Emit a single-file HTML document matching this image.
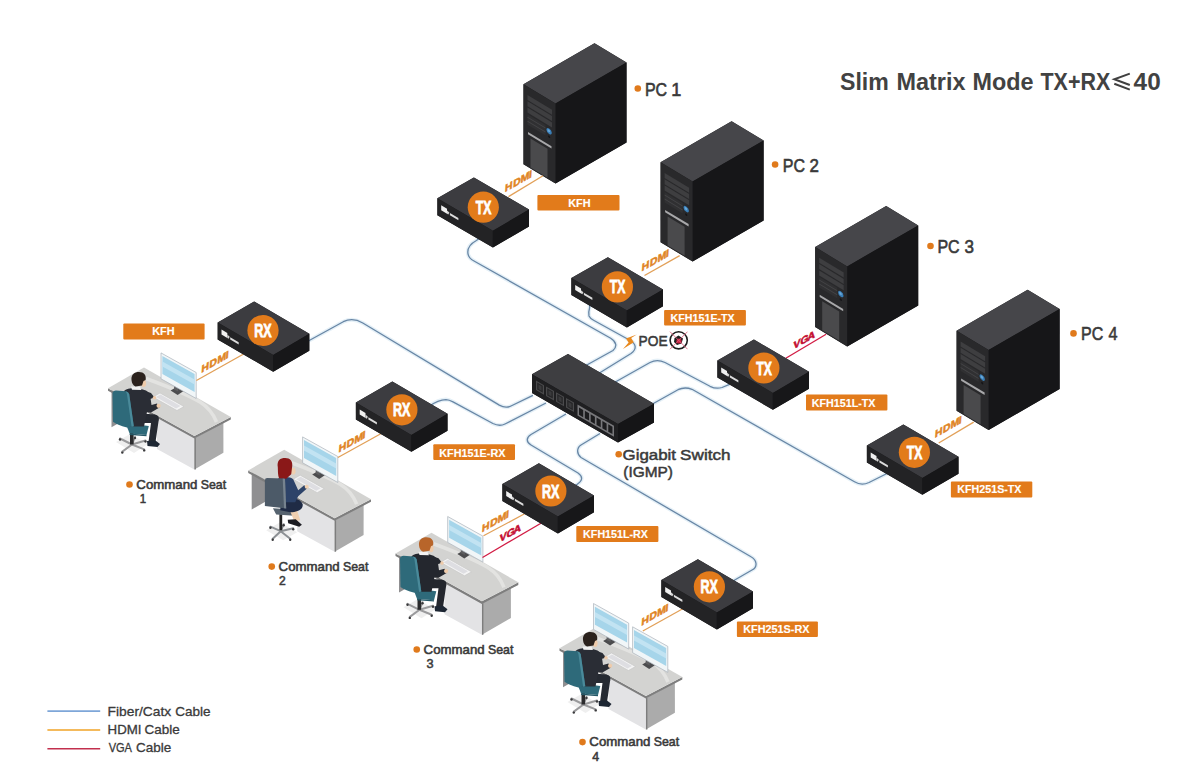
<!DOCTYPE html><html><head><meta charset="utf-8"><style>html,body{margin:0;padding:0;background:#fff;overflow:hidden;width:1200px;height:782px;}svg{display:block;}</style></head><body><svg width="1200" height="782" viewBox="0 0 1200 782">
<rect width="1200" height="782" fill="#ffffff"/>
<path d="M479.5,238.3 L476.4,240.5 C470,244 467.8,247 467.8,252 C467.8,256 469,258.5 474,261 L610.7,338.3 C616.5,342 617.5,346.5 613,350.5 L585,366" fill="none" stroke="#e5f0f7" stroke-width="4" stroke-linejoin="round"/>
<path d="M589.7,304.5 L589.6,307.7 C588.6,311 588.6,314 589,316 C590,318.5 591,319 594,320.5 L629.8,340.3 C636.5,344 637,349 631,353.5 L597,374.5" fill="none" stroke="#e5f0f7" stroke-width="4" stroke-linejoin="round"/>
<path d="M306,342.2 L343.3,321.7 C350,318.5 356,319 362.8,323 L499.3,405.1 C503.5,407.5 507,408 511,406 L532.9,395.3" fill="none" stroke="#e5f0f7" stroke-width="4" stroke-linejoin="round"/>
<path d="M429,406.5 C435,402 440,399.6 446,399.6 C448.5,399.7 450.5,400.5 453,401.8 L492.9,423.5 C497,425.5 501,426 505,424 L546,403" fill="none" stroke="#e5f0f7" stroke-width="4" stroke-linejoin="round"/>
<path d="M566,414 L531,434.5 C526,437.5 526,442 531,445 L578,473 C583,476.5 583,480.5 577,484.5 L574,487" fill="none" stroke="#e5f0f7" stroke-width="4" stroke-linejoin="round"/>
<path d="M600,433.5 L581,445 C576.5,448 576.5,454 581,457.5 L751,556.7 C757,560 758,567 752,570 L733,581" fill="none" stroke="#e5f0f7" stroke-width="4" stroke-linejoin="round"/>
<path d="M610,385 L650,362.5 C655,359.8 660,360 665,362.5 L710,386.3 C714,388.3 718,388.8 722,387.5 L729.5,384.3" fill="none" stroke="#e5f0f7" stroke-width="4" stroke-linejoin="round"/>
<path d="M648,406.5 L678,389.7 C682,387.8 688,387.8 692,389.3 L854.5,481.8 C858.5,484.2 864,484.8 869,482.5 L889,472.5" fill="none" stroke="#e5f0f7" stroke-width="4" stroke-linejoin="round"/>
<path d="M479.5,238.3 L476.4,240.5 C470,244 467.8,247 467.8,252 C467.8,256 469,258.5 474,261 L610.7,338.3 C616.5,342 617.5,346.5 613,350.5 L585,366" fill="none" stroke="#6886a5" stroke-width="1.3" stroke-linejoin="round"/>
<path d="M589.7,304.5 L589.6,307.7 C588.6,311 588.6,314 589,316 C590,318.5 591,319 594,320.5 L629.8,340.3 C636.5,344 637,349 631,353.5 L597,374.5" fill="none" stroke="#6886a5" stroke-width="1.3" stroke-linejoin="round"/>
<path d="M306,342.2 L343.3,321.7 C350,318.5 356,319 362.8,323 L499.3,405.1 C503.5,407.5 507,408 511,406 L532.9,395.3" fill="none" stroke="#6886a5" stroke-width="1.3" stroke-linejoin="round"/>
<path d="M429,406.5 C435,402 440,399.6 446,399.6 C448.5,399.7 450.5,400.5 453,401.8 L492.9,423.5 C497,425.5 501,426 505,424 L546,403" fill="none" stroke="#6886a5" stroke-width="1.3" stroke-linejoin="round"/>
<path d="M566,414 L531,434.5 C526,437.5 526,442 531,445 L578,473 C583,476.5 583,480.5 577,484.5 L574,487" fill="none" stroke="#6886a5" stroke-width="1.3" stroke-linejoin="round"/>
<path d="M600,433.5 L581,445 C576.5,448 576.5,454 581,457.5 L751,556.7 C757,560 758,567 752,570 L733,581" fill="none" stroke="#6886a5" stroke-width="1.3" stroke-linejoin="round"/>
<path d="M610,385 L650,362.5 C655,359.8 660,360 665,362.5 L710,386.3 C714,388.3 718,388.8 722,387.5 L729.5,384.3" fill="none" stroke="#6886a5" stroke-width="1.3" stroke-linejoin="round"/>
<path d="M648,406.5 L678,389.7 C682,387.8 688,387.8 692,389.3 L854.5,481.8 C858.5,484.2 864,484.8 869,482.5 L889,472.5" fill="none" stroke="#6886a5" stroke-width="1.3" stroke-linejoin="round"/>
<polygon points="594.5,43.3 626.5,62.6 626.5,142.6 555.5,183.6 523.5,164.3 523.5,84.3" fill="#19191b"/><polygon points="594.5,43.3 626.5,62.6 555.5,103.6 523.5,84.3" fill="#46464a"/><polygon points="555.5,103.6 626.5,62.6 626.5,142.6 555.5,183.6" fill="#161618"/><polygon points="523.5,84.3 555.5,103.6 555.5,183.6 523.5,164.3" fill="#29292b"/><g transform="matrix(1,0.6031,0,1,523.5,84.3)"><polygon points="4.0,8.3 28.5,8.3 28.5,13.3 4.0,13.3" fill="#3e3e40"/><polygon points="4.0,14.6 28.5,14.6 28.5,19.6 4.0,19.6" fill="#3e3e40"/><polygon points="4.0,20.9 28.5,20.9 28.5,25.9 4.0,25.9" fill="#3e3e40"/><polygon points="4.0,27.5 22.0,27.5 22.0,38.0 4.0,38.0" fill="#303032"/><polygon points="4.0,30.0 22.0,30.0 22.0,31.0 4.0,31.0" fill="#444446"/><polygon points="4.0,34.0 22.0,34.0 22.0,35.0 4.0,35.0" fill="#444446"/><circle cx="25.6" cy="31.5" r="2.7" fill="#3a7fb8"/><circle cx="25.3" cy="31.2" r="1.3" fill="#6aa8d8"/><circle cx="25.6" cy="37" r="1.1" fill="#151517"/><polygon points="4.5,45.0 28.0,45.0 28.0,47.3 4.5,47.3" fill="#a8a8aa"/><polygon points="7.0,50.0 24.0,50.0 24.0,79.0 7.0,79.0" fill="#4a4a4c"/></g>
<polygon points="731.6,121.2 763.6,140.5 763.6,220.5 692.6,261.5 660.6,242.2 660.6,162.2" fill="#19191b"/><polygon points="731.6,121.2 763.6,140.5 692.6,181.5 660.6,162.2" fill="#46464a"/><polygon points="692.6,181.5 763.6,140.5 763.6,220.5 692.6,261.5" fill="#161618"/><polygon points="660.6,162.2 692.6,181.5 692.6,261.5 660.6,242.2" fill="#29292b"/><g transform="matrix(1,0.6031,0,1,660.6,162.2)"><polygon points="4.0,8.3 28.5,8.3 28.5,13.3 4.0,13.3" fill="#3e3e40"/><polygon points="4.0,14.6 28.5,14.6 28.5,19.6 4.0,19.6" fill="#3e3e40"/><polygon points="4.0,20.9 28.5,20.9 28.5,25.9 4.0,25.9" fill="#3e3e40"/><polygon points="4.0,27.5 22.0,27.5 22.0,38.0 4.0,38.0" fill="#303032"/><polygon points="4.0,30.0 22.0,30.0 22.0,31.0 4.0,31.0" fill="#444446"/><polygon points="4.0,34.0 22.0,34.0 22.0,35.0 4.0,35.0" fill="#444446"/><circle cx="25.6" cy="31.5" r="2.7" fill="#3a7fb8"/><circle cx="25.3" cy="31.2" r="1.3" fill="#6aa8d8"/><circle cx="25.6" cy="37" r="1.1" fill="#151517"/><polygon points="4.5,45.0 28.0,45.0 28.0,47.3 4.5,47.3" fill="#a8a8aa"/><polygon points="7.0,50.0 24.0,50.0 24.0,79.0 7.0,79.0" fill="#4a4a4c"/></g>
<polygon points="886.2,206.1 918.2,225.4 918.2,305.4 847.2,346.4 815.2,327.1 815.2,247.1" fill="#19191b"/><polygon points="886.2,206.1 918.2,225.4 847.2,266.4 815.2,247.1" fill="#46464a"/><polygon points="847.2,266.4 918.2,225.4 918.2,305.4 847.2,346.4" fill="#161618"/><polygon points="815.2,247.1 847.2,266.4 847.2,346.4 815.2,327.1" fill="#29292b"/><g transform="matrix(1,0.6031,0,1,815.2,247.1)"><polygon points="4.0,8.3 28.5,8.3 28.5,13.3 4.0,13.3" fill="#3e3e40"/><polygon points="4.0,14.6 28.5,14.6 28.5,19.6 4.0,19.6" fill="#3e3e40"/><polygon points="4.0,20.9 28.5,20.9 28.5,25.9 4.0,25.9" fill="#3e3e40"/><polygon points="4.0,27.5 22.0,27.5 22.0,38.0 4.0,38.0" fill="#303032"/><polygon points="4.0,30.0 22.0,30.0 22.0,31.0 4.0,31.0" fill="#444446"/><polygon points="4.0,34.0 22.0,34.0 22.0,35.0 4.0,35.0" fill="#444446"/><circle cx="25.6" cy="31.5" r="2.7" fill="#3a7fb8"/><circle cx="25.3" cy="31.2" r="1.3" fill="#6aa8d8"/><circle cx="25.6" cy="37" r="1.1" fill="#151517"/><polygon points="4.5,45.0 28.0,45.0 28.0,47.3 4.5,47.3" fill="#a8a8aa"/><polygon points="7.0,50.0 24.0,50.0 24.0,79.0 7.0,79.0" fill="#4a4a4c"/></g>
<polygon points="1027.6,289.7 1059.6,309.0 1059.6,389.0 988.6,430.0 956.6,410.7 956.6,330.7" fill="#19191b"/><polygon points="1027.6,289.7 1059.6,309.0 988.6,350.0 956.6,330.7" fill="#46464a"/><polygon points="988.6,350.0 1059.6,309.0 1059.6,389.0 988.6,430.0" fill="#161618"/><polygon points="956.6,330.7 988.6,350.0 988.6,430.0 956.6,410.7" fill="#29292b"/><g transform="matrix(1,0.6031,0,1,956.6,330.7)"><polygon points="4.0,8.3 28.5,8.3 28.5,13.3 4.0,13.3" fill="#3e3e40"/><polygon points="4.0,14.6 28.5,14.6 28.5,19.6 4.0,19.6" fill="#3e3e40"/><polygon points="4.0,20.9 28.5,20.9 28.5,25.9 4.0,25.9" fill="#3e3e40"/><polygon points="4.0,27.5 22.0,27.5 22.0,38.0 4.0,38.0" fill="#303032"/><polygon points="4.0,30.0 22.0,30.0 22.0,31.0 4.0,31.0" fill="#444446"/><polygon points="4.0,34.0 22.0,34.0 22.0,35.0 4.0,35.0" fill="#444446"/><circle cx="25.6" cy="31.5" r="2.7" fill="#3a7fb8"/><circle cx="25.3" cy="31.2" r="1.3" fill="#6aa8d8"/><circle cx="25.6" cy="37" r="1.1" fill="#151517"/><polygon points="4.5,45.0 28.0,45.0 28.0,47.3 4.5,47.3" fill="#a8a8aa"/><polygon points="7.0,50.0 24.0,50.0 24.0,79.0 7.0,79.0" fill="#4a4a4c"/></g>
<line x1="508.5" y1="196.6" x2="543" y2="175.8" stroke="#e2a058" stroke-width="1.3"/>
<text x="-0.68 7.52 15.22 23.42" y="0" font-family='"Liberation Sans", sans-serif' font-weight="bold" font-size="10.47" fill="#e08424" stroke="#e08424" stroke-width="0.55" transform="matrix(1.0,-0.5650,-0.07,1,505.4,191.9)">HDMI</text>
<line x1="644.5" y1="275.5" x2="679.7" y2="255.6" stroke="#e2a058" stroke-width="1.3"/>
<text x="-0.68 7.58 15.34 23.61" y="0" font-family='"Liberation Sans", sans-serif' font-weight="bold" font-size="10.47" fill="#e08424" stroke="#e08424" stroke-width="0.55" transform="matrix(1.0,-0.5650,-0.07,1,642.1,271.2)">HDMI</text>
<line x1="785.8" y1="358.3" x2="826.1" y2="334.2" stroke="#d21c44" stroke-width="1.3"/>
<text x="-0.05 6.98 13.84" y="0" font-family='"Liberation Sans", sans-serif' font-weight="bold" font-size="10.47" fill="#c40c30" stroke="#c40c30" stroke-width="0.55" transform="matrix(1.0,-0.5650,-0.07,1,793.4,349.4)">VGA</text>
<line x1="938.7" y1="443" x2="973.7" y2="422.1" stroke="#e2a058" stroke-width="1.3"/>
<text x="-0.68 7.46 15.10 23.23" y="0" font-family='"Liberation Sans", sans-serif' font-weight="bold" font-size="10.47" fill="#e08424" stroke="#e08424" stroke-width="0.55" transform="matrix(1.0,-0.5650,-0.07,1,935.3,437.6)">HDMI</text>
<g transform="translate(0.0,0.0)"><polygon points="111.5,389.0 125.0,381.2 125.0,419.5 111.5,427.3" fill="#8f8f91"/><polygon points="157.0,417.0 194.4,438.0 194.4,469.5 157.0,449.0" fill="#e3e3e5"/><polygon points="194.4,438.0 223.4,422.5 223.4,452.7 194.4,469.5" fill="#ababab"/><line x1="195.2" y1="438" x2="195.2" y2="469.5" stroke="#7d7d7d" stroke-width="1.4"/><polygon points="108.0,388.2 194.4,436.0 230.8,417.0 230.8,419.6 194.4,438.6 108.0,390.8" fill="#7e7e7e"/><polygon points="108.0,388.2 144.0,367.5 230.8,417.0 194.4,436.0" fill="#d3d3d1"/><path d="M146,378.5 C165,385.5 185,393 200,402 C208,407 213,413 216.5,422" fill="none" stroke="#e3e3e1" stroke-width="3.6"/><polygon points="170.6,390.5 176.6,387.0 183.6,391.0 177.6,395.0" fill="#4c4c4e"/><polygon points="174.1,384.5 178.1,386.5 178.1,391.5 174.1,389.5" fill="#5e5e60"/><polygon points="161.0,352.9 196.2,372.5 196.2,398.5 161.0,378.8" fill="#f1f6f8" stroke="#aab2ba" stroke-width="0.7"/><polygon points="162.4,356.1 194.6,374.1 194.6,392.0 162.4,374.1" fill="#a6d5ea"/><polygon points="162.4,361.5 194.6,379.5 194.6,384.5 162.4,366.5" fill="#c2e3f2"/><polygon points="153.0,397.0 160.0,393.0 184.0,406.5 177.0,410.5" fill="#f4f4f4" stroke="#c4c4c4" stroke-width="0.6"/><polygon points="156.0,397.0 160.5,394.5 180.5,406.0 176.0,408.5" fill="#dedee2"/><polygon points="116,442 130,434 148,444 134,453" fill="#efefef"/><g stroke="#9a9a9c" stroke-width="2" stroke-linecap="round"><line x1="132" y1="444.5" x2="120" y2="438.5"/><line x1="132" y1="444.5" x2="122.3" y2="451.6"/><line x1="132" y1="444.5" x2="144.2" y2="449.4"/><line x1="132" y1="444.5" x2="145.5" y2="440.5"/><line x1="132" y1="444.5" x2="135" y2="437"/></g><circle cx="120" cy="439.5" r="1.2" fill="#3a3a3c"/><circle cx="122.3" cy="452.6" r="1.2" fill="#3a3a3c"/><circle cx="144.2" cy="450.4" r="1.2" fill="#3a3a3c"/><circle cx="145.5" cy="441.5" r="1.2" fill="#3a3a3c"/><circle cx="135" cy="438" r="1.2" fill="#3a3a3c"/><rect x="130" y="433" width="3.6" height="11.5" fill="#2a2a2c"/><polygon points="125.5,423.0 148.8,426.0 146.5,435.0 129.6,433.6" fill="#2e6a7a"/><polygon points="129.6,433.6 146.5,435.0 146.5,436.3 129.6,434.9" fill="#245766"/><path d="M136,413 L155,414.5 C159,415.5 159.5,418.5 158.5,421.5 L155.5,442 L148.5,442 L151,423 L138,423 Z" fill="#262a32"/><path d="M147,441 L155.5,440.5 L160,444 L157.5,447 L147.5,446 Z" fill="#1d2633"/><path d="M145,391 L151,393 L154.5,397.5 L150,399 Z" fill="#2a2d35"/><circle cx="154.5" cy="397.8" r="1.8" fill="#eecbab"/><path d="M124,391 C126,388.5 132,387.5 138,388 L146,390.5 C149,392 150.5,395 150.5,398 L151.5,405 L157,403.5 L159.5,407.5 L151,412.5 L147,412 L144,426.5 L130,426.5 L126,408 Z" fill="#2a2d35"/><circle cx="158.6" cy="405.8" r="2.1" fill="#eecbab"/><polygon points="131.0,386.5 140.0,386.8 141.5,390.0 132.0,389.8" fill="#f2f2f2"/><ellipse cx="143.6" cy="383.3" rx="2.5" ry="3.6" fill="#eecbab"/><path d="M131.5,380 C131,374.5 134.5,372 139,372 C144,372 146.5,375 145.6,380 L143.5,381 L142,385.5 L135.5,386.5 C133,385.5 131.8,383 131.5,380 Z" fill="#2b221d"/><path d="M112.5,393 Q113,390.5 116,390.5 L126,391.3 Q128.5,391.8 129.2,394.3 L133.8,426.3 L127,427.5 Q117,425 113,421.7 Z" fill="#2e6a7a"/><path d="M126.3,391.4 Q128.5,391.8 129.2,394.3 L133.8,426.3 L131.6,426.8 L127,394.5 Q126.8,392.5 125.5,391.6 Z" fill="#4a8a9a"/></g>
<g transform="translate(140.2,82.2)"><polygon points="111.5,389.0 125.0,381.2 125.0,419.5 111.5,427.3" fill="#8f8f91"/><polygon points="157.0,417.0 194.4,438.0 194.4,469.5 157.0,449.0" fill="#e3e3e5"/><polygon points="194.4,438.0 223.4,422.5 223.4,452.7 194.4,469.5" fill="#ababab"/><line x1="195.2" y1="438" x2="195.2" y2="469.5" stroke="#7d7d7d" stroke-width="1.4"/><polygon points="108.0,388.2 194.4,436.0 230.8,417.0 230.8,419.6 194.4,438.6 108.0,390.8" fill="#7e7e7e"/><polygon points="108.0,388.2 144.0,367.5 230.8,417.0 194.4,436.0" fill="#d3d3d1"/><path d="M146,378.5 C165,385.5 185,393 200,402 C208,407 213,413 216.5,422" fill="none" stroke="#e3e3e1" stroke-width="3.6"/><polygon points="172.0,392.3 178.0,388.8 185.0,392.8 179.0,396.8" fill="#4c4c4e"/><polygon points="175.5,386.3 179.5,388.3 179.5,393.3 175.5,391.3" fill="#5e5e60"/><polygon points="162.4,354.7 197.6,374.3 197.6,400.3 162.4,380.6" fill="#f1f6f8" stroke="#aab2ba" stroke-width="0.7"/><polygon points="163.8,357.9 196.0,375.9 196.0,393.8 163.8,375.9" fill="#a6d5ea"/><polygon points="163.8,363.3 196.0,381.3 196.0,386.3 163.8,368.3" fill="#c2e3f2"/><polygon points="153.0,397.0 160.0,393.0 184.0,406.5 177.0,410.5" fill="#f4f4f4" stroke="#c4c4c4" stroke-width="0.6"/><polygon points="156.0,397.0 160.5,394.5 180.5,406.0 176.0,408.5" fill="#dedee2"/><polygon points="126,448 140,440 157,450 143,458" fill="#efefef"/><g stroke="#8c9094" stroke-width="2" stroke-linecap="round"><line x1="140.5" y1="449" x2="130.2" y2="444.5"/><line x1="140.5" y1="449" x2="132.5" y2="456.5"/><line x1="140.5" y1="449" x2="150" y2="456.5"/><line x1="140.5" y1="449" x2="153" y2="446"/><line x1="140.5" y1="449" x2="143.5" y2="442"/></g><circle cx="130.2" cy="445.5" r="1.2" fill="#3a3a3c"/><circle cx="132.5" cy="457.5" r="1.2" fill="#3a3a3c"/><circle cx="150" cy="457.5" r="1.2" fill="#3a3a3c"/><circle cx="153" cy="447" r="1.2" fill="#3a3a3c"/><circle cx="143.5" cy="443" r="1.2" fill="#3a3a3c"/><rect x="139.2" y="432" width="2.8" height="16" fill="#222"/><polygon points="132.7,426.0 155.7,427.5 154.0,433.5 136.0,432.3" fill="#56636f"/><polygon points="150.0,429.0 157.0,428.5 160.0,438.0 154.0,439.0" fill="#efcfb0"/><path d="M147.5,437.5 L155.5,437 L161.7,442.5 L159,444.5 L148,441 Z" fill="#1c1c22"/><path d="M141,417 C150,414 160,416 162.5,422 C163,427 158,430 150,430 L140,428 Z" fill="#1f2b45"/><path d="M137,397 C141,394 150,394 153,397 L158,408 L164,403 L167,406 L158,414 L155,420 L140,420 Z" fill="#2d4369"/><circle cx="166.5" cy="404.5" r="2" fill="#efcfb0"/><ellipse cx="153" cy="389" rx="2.4" ry="3.4" fill="#efcfb0"/><path d="M137.6,385 C136.5,378 140,375.7 145,375.7 C150,375.7 152.8,379 152,384 L151,392 L146,396.5 L139,396.5 C137.5,393 137.8,389 137.6,385 Z" fill="#8a1818"/><path d="M124.7,398 Q124.7,395.9 127,395.9 L143,396.4 Q144.8,396.5 144.9,398.5 L146,426.2 L124.7,423.8 Z" fill="#4c5a68"/><polygon points="142.5,396.4 144.8,396.5 146,426.2 143.8,426" fill="#76838f"/></g>
<g transform="translate(287.5,165.3)"><polygon points="111.5,389.0 125.0,381.2 125.0,419.5 111.5,427.3" fill="#8f8f91"/><polygon points="157.0,417.0 194.4,438.0 194.4,469.5 157.0,449.0" fill="#e3e3e5"/><polygon points="194.4,438.0 223.4,422.5 223.4,452.7 194.4,469.5" fill="#ababab"/><line x1="195.2" y1="438" x2="195.2" y2="469.5" stroke="#7d7d7d" stroke-width="1.4"/><polygon points="108.0,388.2 194.4,436.0 230.8,417.0 230.8,419.6 194.4,438.6 108.0,390.8" fill="#7e7e7e"/><polygon points="108.0,388.2 144.0,367.5 230.8,417.0 194.4,436.0" fill="#d3d3d1"/><path d="M146,378.5 C165,385.5 185,393 200,402 C208,407 213,413 216.5,422" fill="none" stroke="#e3e3e1" stroke-width="3.6"/><polygon points="169.8,388.8 175.8,385.3 182.8,389.3 176.8,393.3" fill="#4c4c4e"/><polygon points="173.3,382.8 177.3,384.8 177.3,389.8 173.3,387.8" fill="#5e5e60"/><polygon points="160.2,351.2 195.4,370.8 195.4,396.8 160.2,377.1" fill="#f1f6f8" stroke="#aab2ba" stroke-width="0.7"/><polygon points="161.6,354.4 193.8,372.4 193.8,390.3 161.6,372.4" fill="#a6d5ea"/><polygon points="161.6,359.8 193.8,377.8 193.8,382.8 161.6,364.8" fill="#c2e3f2"/><polygon points="153.0,397.0 160.0,393.0 184.0,406.5 177.0,410.5" fill="#f4f4f4" stroke="#c4c4c4" stroke-width="0.6"/><polygon points="156.0,397.0 160.5,394.5 180.5,406.0 176.0,408.5" fill="#dedee2"/><polygon points="116,442 130,434 148,444 134,453" fill="#efefef"/><g stroke="#9a9a9c" stroke-width="2" stroke-linecap="round"><line x1="132" y1="444.5" x2="120" y2="438.5"/><line x1="132" y1="444.5" x2="122.3" y2="451.6"/><line x1="132" y1="444.5" x2="144.2" y2="449.4"/><line x1="132" y1="444.5" x2="145.5" y2="440.5"/><line x1="132" y1="444.5" x2="135" y2="437"/></g><circle cx="120" cy="439.5" r="1.2" fill="#3a3a3c"/><circle cx="122.3" cy="452.6" r="1.2" fill="#3a3a3c"/><circle cx="144.2" cy="450.4" r="1.2" fill="#3a3a3c"/><circle cx="145.5" cy="441.5" r="1.2" fill="#3a3a3c"/><circle cx="135" cy="438" r="1.2" fill="#3a3a3c"/><rect x="130" y="433" width="3.6" height="11.5" fill="#2a2a2c"/><polygon points="125.5,423.0 148.8,426.0 146.5,435.0 129.6,433.6" fill="#2e6a7a"/><polygon points="129.6,433.6 146.5,435.0 146.5,436.3 129.6,434.9" fill="#245766"/><path d="M136,413 L155,414.5 C159,415.5 159.5,418.5 158.5,421.5 L155.5,442 L148.5,442 L151,423 L138,423 Z" fill="#24272e"/><path d="M147,441 L155.5,440.5 L160,444 L157.5,447 L147.5,446 Z" fill="#1d2633"/><path d="M145,391 L151,393 L154.5,397.5 L150,399 Z" fill="#24272e"/><circle cx="154.5" cy="397.8" r="1.8" fill="#eecbab"/><path d="M124,391 C126,388.5 132,387.5 138,388 L146,390.5 C149,392 150.5,395 150.5,398 L151.5,405 L157,403.5 L159.5,407.5 L151,412.5 L147,412 L144,426.5 L130,426.5 L126,408 Z" fill="#24272e"/><circle cx="158.6" cy="405.8" r="2.1" fill="#eecbab"/><polygon points="131.0,386.5 140.0,386.8 141.5,390.0 132.0,389.8" fill="#f2f2f2"/><ellipse cx="143.6" cy="383.3" rx="2.5" ry="3.6" fill="#eecbab"/><path d="M131.5,380 C131,374.5 134.5,372 139,372 C144,372 146.5,375 145.6,380 L143.5,381 L142,385.5 L135.5,386.5 C133,385.5 131.8,383 131.5,380 Z" fill="#b8652a"/><path d="M112.5,393 Q113,390.5 116,390.5 L126,391.3 Q128.5,391.8 129.2,394.3 L133.8,426.3 L127,427.5 Q117,425 113,421.7 Z" fill="#2e6a7a"/><path d="M126.3,391.4 Q128.5,391.8 129.2,394.3 L133.8,426.3 L131.6,426.8 L127,394.5 Q126.8,392.5 125.5,391.6 Z" fill="#4a8a9a"/></g>
<g transform="translate(451.5,260.0)"><polygon points="111.5,389.0 125.0,381.2 125.0,419.5 111.5,427.3" fill="#8f8f91"/><polygon points="157.0,417.0 194.4,438.0 194.4,469.5 157.0,449.0" fill="#e3e3e5"/><polygon points="194.4,438.0 223.4,422.5 223.4,452.7 194.4,469.5" fill="#ababab"/><line x1="195.2" y1="438" x2="195.2" y2="469.5" stroke="#7d7d7d" stroke-width="1.4"/><polygon points="108.0,388.2 194.4,436.0 230.8,417.0 230.8,419.6 194.4,438.6 108.0,390.8" fill="#7e7e7e"/><polygon points="108.0,388.2 144.0,367.5 230.8,417.0 194.4,436.0" fill="#d3d3d1"/><path d="M146,378.5 C165,385.5 185,393 200,402 C208,407 213,413 216.5,422" fill="none" stroke="#e3e3e1" stroke-width="3.6"/><polygon points="151.6,381.1 157.6,377.6 164.6,381.6 158.6,385.6" fill="#4c4c4e"/><polygon points="155.1,375.1 159.1,377.1 159.1,382.1 155.1,380.1" fill="#5e5e60"/><polygon points="142.0,343.5 177.2,363.1 177.2,389.1 142.0,369.4" fill="#f1f6f8" stroke="#aab2ba" stroke-width="0.7"/><polygon points="143.4,346.7 175.6,364.7 175.6,382.6 143.4,364.7" fill="#a6d5ea"/><polygon points="143.4,352.1 175.6,370.1 175.6,375.1 143.4,357.1" fill="#c2e3f2"/><polygon points="190.7,404.4 196.7,400.9 203.7,404.9 197.7,408.9" fill="#4c4c4e"/><polygon points="194.2,398.4 198.2,400.4 198.2,405.4 194.2,403.4" fill="#5e5e60"/><polygon points="181.1,366.8 216.3,386.4 216.3,412.4 181.1,392.7" fill="#f1f6f8" stroke="#aab2ba" stroke-width="0.7"/><polygon points="182.5,370.0 214.7,388.0 214.7,405.9 182.5,388.0" fill="#a6d5ea"/><polygon points="182.5,375.4 214.7,393.4 214.7,398.4 182.5,380.4" fill="#c2e3f2"/><polygon points="153.0,397.0 160.0,393.0 184.0,406.5 177.0,410.5" fill="#f4f4f4" stroke="#c4c4c4" stroke-width="0.6"/><polygon points="156.0,397.0 160.5,394.5 180.5,406.0 176.0,408.5" fill="#dedee2"/><polygon points="116,442 130,434 148,444 134,453" fill="#efefef"/><g stroke="#9a9a9c" stroke-width="2" stroke-linecap="round"><line x1="132" y1="444.5" x2="120" y2="438.5"/><line x1="132" y1="444.5" x2="122.3" y2="451.6"/><line x1="132" y1="444.5" x2="144.2" y2="449.4"/><line x1="132" y1="444.5" x2="145.5" y2="440.5"/><line x1="132" y1="444.5" x2="135" y2="437"/></g><circle cx="120" cy="439.5" r="1.2" fill="#3a3a3c"/><circle cx="122.3" cy="452.6" r="1.2" fill="#3a3a3c"/><circle cx="144.2" cy="450.4" r="1.2" fill="#3a3a3c"/><circle cx="145.5" cy="441.5" r="1.2" fill="#3a3a3c"/><circle cx="135" cy="438" r="1.2" fill="#3a3a3c"/><rect x="130" y="433" width="3.6" height="11.5" fill="#2a2a2c"/><polygon points="125.5,423.0 148.8,426.0 146.5,435.0 129.6,433.6" fill="#2e6a7a"/><polygon points="129.6,433.6 146.5,435.0 146.5,436.3 129.6,434.9" fill="#245766"/><path d="M136,413 L155,414.5 C159,415.5 159.5,418.5 158.5,421.5 L155.5,442 L148.5,442 L151,423 L138,423 Z" fill="#262a32"/><path d="M147,441 L155.5,440.5 L160,444 L157.5,447 L147.5,446 Z" fill="#1d2633"/><path d="M145,391 L151,393 L154.5,397.5 L150,399 Z" fill="#2a2d35"/><circle cx="154.5" cy="397.8" r="1.8" fill="#eecbab"/><path d="M124,391 C126,388.5 132,387.5 138,388 L146,390.5 C149,392 150.5,395 150.5,398 L151.5,405 L157,403.5 L159.5,407.5 L151,412.5 L147,412 L144,426.5 L130,426.5 L126,408 Z" fill="#2a2d35"/><circle cx="158.6" cy="405.8" r="2.1" fill="#eecbab"/><polygon points="131.0,386.5 140.0,386.8 141.5,390.0 132.0,389.8" fill="#f2f2f2"/><ellipse cx="143.6" cy="383.3" rx="2.5" ry="3.6" fill="#eecbab"/><path d="M131.5,380 C131,374.5 134.5,372 139,372 C144,372 146.5,375 145.6,380 L143.5,381 L142,385.5 L135.5,386.5 C133,385.5 131.8,383 131.5,380 Z" fill="#2b221d"/><path d="M112.5,393 Q113,390.5 116,390.5 L126,391.3 Q128.5,391.8 129.2,394.3 L133.8,426.3 L127,427.5 Q117,425 113,421.7 Z" fill="#2e6a7a"/><path d="M126.3,391.4 Q128.5,391.8 129.2,394.3 L133.8,426.3 L131.6,426.8 L127,394.5 Q126.8,392.5 125.5,391.6 Z" fill="#4a8a9a"/></g>
<line x1="196.4" y1="380.5" x2="243.2" y2="354.2" stroke="#e2a058" stroke-width="1.3"/>
<text x="-0.68 7.58 15.34 23.61" y="0" font-family='"Liberation Sans", sans-serif' font-weight="bold" font-size="10.47" fill="#e08424" stroke="#e08424" stroke-width="0.55" transform="matrix(1.0,-0.5650,-0.07,1,201.8,372.7)">HDMI</text>
<line x1="337.9" y1="457.5" x2="380.8" y2="433.7" stroke="#e2a058" stroke-width="1.3"/>
<text x="-0.68 7.43 15.04 23.14" y="0" font-family='"Liberation Sans", sans-serif' font-weight="bold" font-size="10.47" fill="#e08424" stroke="#e08424" stroke-width="0.55" transform="matrix(1.0,-0.5650,-0.07,1,339.1,452.4)">HDMI</text>
<line x1="483.5" y1="535.8" x2="524.6" y2="513.8" stroke="#e2a058" stroke-width="1.3"/>
<text x="-0.68 7.49 15.16 23.33" y="0" font-family='"Liberation Sans", sans-serif' font-weight="bold" font-size="10.47" fill="#e08424" stroke="#e08424" stroke-width="0.55" transform="matrix(1.0,-0.5650,-0.07,1,482.4,532)">HDMI</text>
<line x1="482.5" y1="557.5" x2="541.8" y2="522.7" stroke="#d21c44" stroke-width="1.3"/>
<text x="-0.05 6.95 13.77" y="0" font-family='"Liberation Sans", sans-serif' font-weight="bold" font-size="10.47" fill="#c40c30" stroke="#c40c30" stroke-width="0.55" transform="matrix(1.0,-0.5650,-0.07,1,499.5,542.5)">VGA</text>
<line x1="642.8" y1="631" x2="682.8" y2="608.8" stroke="#e2a058" stroke-width="1.3"/>
<text x="-0.68 7.52 15.22 23.42" y="0" font-family='"Liberation Sans", sans-serif' font-weight="bold" font-size="10.47" fill="#e08424" stroke="#e08424" stroke-width="0.55" transform="matrix(1.0,-0.5650,-0.07,1,641.8,625.6)">HDMI</text>
<polygon points="568.0,354.1 654.0,403.8 654.0,422.4 618.0,442.6 532.0,392.9 532.0,374.3" fill="#18181a"/><polygon points="568.0,354.1 654.0,403.8 618.0,424.0 532.0,374.3" fill="#3e3e41"/><polygon points="532.0,374.3 618.0,424.0 618.0,442.6 532.0,392.9" fill="#1f1f21"/><polygon points="618.0,424.0 654.0,403.8 654.0,422.4 618.0,442.6" fill="#151517"/><g transform="matrix(1,0.5779,0,1,532.0,374.3)"><rect x="4" y="4" width="8" height="9.5" fill="#4a4a4c"/><rect x="5.2" y="5.2" width="5.6" height="7.1" fill="#262628"/><rect x="6.5" y="6.5" width="3" height="4.5" fill="#3a3a3c"/><rect x="14" y="4" width="8" height="9.5" fill="#4a4a4c"/><rect x="15.2" y="5.2" width="5.6" height="7.1" fill="#262628"/><rect x="16.5" y="6.5" width="3" height="4.5" fill="#3a3a3c"/><rect x="24" y="4" width="8" height="9.5" fill="#4a4a4c"/><rect x="25.2" y="5.2" width="5.6" height="7.1" fill="#262628"/><rect x="26.5" y="6.5" width="3" height="4.5" fill="#3a3a3c"/><rect x="34" y="4" width="8" height="9.5" fill="#4a4a4c"/><rect x="35.2" y="5.2" width="5.6" height="7.1" fill="#262628"/><rect x="36.5" y="6.5" width="3" height="4.5" fill="#3a3a3c"/><rect x="45.5" y="4" width="36.5" height="11" fill="#77777a"/><rect x="47.00" y="6" width="4.2" height="7.3" fill="#1c1c1e"/><rect x="52.85" y="6" width="4.2" height="7.3" fill="#1c1c1e"/><rect x="58.70" y="6" width="4.2" height="7.3" fill="#1c1c1e"/><rect x="64.55" y="6" width="4.2" height="7.3" fill="#1c1c1e"/><rect x="70.40" y="6" width="4.2" height="7.3" fill="#1c1c1e"/><rect x="76.25" y="6" width="4.2" height="7.3" fill="#1c1c1e"/></g>
<polygon points="473.9,177.4 529.0,209.6 529.0,226.5 492.9,247.6 437.4,215.2 437.4,198.3" fill="#1a1a1c"/><polygon points="473.9,177.4 529.0,209.6 492.9,230.7 437.4,198.3" fill="#3c3c40"/><polygon points="437.4,198.3 492.9,230.7 492.9,247.6 437.4,215.2" fill="#232325"/><polygon points="492.9,230.7 529.0,209.6 529.0,226.5 492.9,247.6" fill="#171719"/><g transform="matrix(1,0.5838,0,1,437.4,198.3)"><rect x="3.8" y="4.8" width="5.8" height="5" fill="#f0f0f0"/><polygon points="9.6,6.5 12,7.2 11,9.8 9.6,9.8" fill="#d8d8d8"/><rect x="12.5" y="7.4" width="8.5" height="2.3" fill="#dcdcdc"/></g><circle cx="483.3" cy="207.2" r="15.6" fill="#e27b1b"/><text x="475.73" y="213.70" font-family='"Liberation Sans", sans-serif' font-weight="bold" font-size="18.60" fill="#fff" stroke="#fff" stroke-width="0.85" textLength="15.58" lengthAdjust="spacingAndGlyphs">TX</text>
<polygon points="607.9,257.2 663.0,289.4 663.0,306.3 626.9,327.4 571.4,295.0 571.4,278.1" fill="#1a1a1c"/><polygon points="607.9,257.2 663.0,289.4 626.9,310.5 571.4,278.1" fill="#3c3c40"/><polygon points="571.4,278.1 626.9,310.5 626.9,327.4 571.4,295.0" fill="#232325"/><polygon points="626.9,310.5 663.0,289.4 663.0,306.3 626.9,327.4" fill="#171719"/><g transform="matrix(1,0.5838,0,1,571.4,278.1)"><rect x="3.8" y="4.8" width="5.8" height="5" fill="#f0f0f0"/><polygon points="9.6,6.5 12,7.2 11,9.8 9.6,9.8" fill="#d8d8d8"/><rect x="12.5" y="7.4" width="8.5" height="2.3" fill="#dcdcdc"/></g><circle cx="617.4" cy="286.9" r="15.6" fill="#e27b1b"/><text x="609.83" y="293.40" font-family='"Liberation Sans", sans-serif' font-weight="bold" font-size="18.60" fill="#fff" stroke="#fff" stroke-width="0.85" textLength="15.58" lengthAdjust="spacingAndGlyphs">TX</text>
<polygon points="753.9,339.6 809.0,371.8 809.0,388.7 772.9,409.8 717.4,377.4 717.4,360.5" fill="#1a1a1c"/><polygon points="753.9,339.6 809.0,371.8 772.9,392.9 717.4,360.5" fill="#3c3c40"/><polygon points="717.4,360.5 772.9,392.9 772.9,409.8 717.4,377.4" fill="#232325"/><polygon points="772.9,392.9 809.0,371.8 809.0,388.7 772.9,409.8" fill="#171719"/><g transform="matrix(1,0.5838,0,1,717.4,360.5)"><rect x="3.8" y="4.8" width="5.8" height="5" fill="#f0f0f0"/><polygon points="9.6,6.5 12,7.2 11,9.8 9.6,9.8" fill="#d8d8d8"/><rect x="12.5" y="7.4" width="8.5" height="2.3" fill="#dcdcdc"/></g><circle cx="763.9" cy="368.0" r="15.6" fill="#e27b1b"/><text x="756.33" y="374.50" font-family='"Liberation Sans", sans-serif' font-weight="bold" font-size="18.60" fill="#fff" stroke="#fff" stroke-width="0.85" textLength="15.58" lengthAdjust="spacingAndGlyphs">TX</text>
<polygon points="903.4,424.6 958.5,456.8 958.5,473.7 922.4,494.8 866.9,462.4 866.9,445.5" fill="#1a1a1c"/><polygon points="903.4,424.6 958.5,456.8 922.4,477.9 866.9,445.5" fill="#3c3c40"/><polygon points="866.9,445.5 922.4,477.9 922.4,494.8 866.9,462.4" fill="#232325"/><polygon points="922.4,477.9 958.5,456.8 958.5,473.7 922.4,494.8" fill="#171719"/><g transform="matrix(1,0.5838,0,1,866.9,445.5)"><rect x="3.8" y="4.8" width="5.8" height="5" fill="#f0f0f0"/><polygon points="9.6,6.5 12,7.2 11,9.8 9.6,9.8" fill="#d8d8d8"/><rect x="12.5" y="7.4" width="8.5" height="2.3" fill="#dcdcdc"/></g><circle cx="914.4" cy="452.3" r="15.6" fill="#e27b1b"/><text x="906.83" y="458.80" font-family='"Liberation Sans", sans-serif' font-weight="bold" font-size="18.60" fill="#fff" stroke="#fff" stroke-width="0.85" textLength="15.58" lengthAdjust="spacingAndGlyphs">TX</text>
<polygon points="254.2,301.6 309.3,333.8 309.3,350.7 273.2,371.8 217.7,339.4 217.7,322.5" fill="#1a1a1c"/><polygon points="254.2,301.6 309.3,333.8 273.2,354.9 217.7,322.5" fill="#3c3c40"/><polygon points="217.7,322.5 273.2,354.9 273.2,371.8 217.7,339.4" fill="#232325"/><polygon points="273.2,354.9 309.3,333.8 309.3,350.7 273.2,371.8" fill="#171719"/><g transform="matrix(1,0.5838,0,1,217.7,322.5)"><rect x="3.8" y="4.8" width="5.8" height="5" fill="#f0f0f0"/><polygon points="9.6,6.5 12,7.2 11,9.8 9.6,9.8" fill="#d8d8d8"/><rect x="12.5" y="7.4" width="8.5" height="2.3" fill="#dcdcdc"/></g><circle cx="263.0" cy="330.5" r="15.6" fill="#e27b1b"/><text x="254.19" y="337.00" font-family='"Liberation Sans", sans-serif' font-weight="bold" font-size="18.60" fill="#fff" stroke="#fff" stroke-width="0.85" textLength="17.39" lengthAdjust="spacingAndGlyphs">RX</text>
<polygon points="392.4,381.6 447.5,413.8 447.5,430.7 411.4,451.8 355.9,419.4 355.9,402.5" fill="#1a1a1c"/><polygon points="392.4,381.6 447.5,413.8 411.4,434.9 355.9,402.5" fill="#3c3c40"/><polygon points="355.9,402.5 411.4,434.9 411.4,451.8 355.9,419.4" fill="#232325"/><polygon points="411.4,434.9 447.5,413.8 447.5,430.7 411.4,451.8" fill="#171719"/><g transform="matrix(1,0.5838,0,1,355.9,402.5)"><rect x="3.8" y="4.8" width="5.8" height="5" fill="#f0f0f0"/><polygon points="9.6,6.5 12,7.2 11,9.8 9.6,9.8" fill="#d8d8d8"/><rect x="12.5" y="7.4" width="8.5" height="2.3" fill="#dcdcdc"/></g><circle cx="401.9" cy="409.8" r="15.6" fill="#e27b1b"/><text x="393.09" y="416.30" font-family='"Liberation Sans", sans-serif' font-weight="bold" font-size="18.60" fill="#fff" stroke="#fff" stroke-width="0.85" textLength="17.39" lengthAdjust="spacingAndGlyphs">RX</text>
<polygon points="538.9,463.2 594.0,495.4 594.0,512.3 557.9,533.4 502.4,501.0 502.4,484.1" fill="#1a1a1c"/><polygon points="538.9,463.2 594.0,495.4 557.9,516.5 502.4,484.1" fill="#3c3c40"/><polygon points="502.4,484.1 557.9,516.5 557.9,533.4 502.4,501.0" fill="#232325"/><polygon points="557.9,516.5 594.0,495.4 594.0,512.3 557.9,533.4" fill="#171719"/><g transform="matrix(1,0.5838,0,1,502.4,484.1)"><rect x="3.8" y="4.8" width="5.8" height="5" fill="#f0f0f0"/><polygon points="9.6,6.5 12,7.2 11,9.8 9.6,9.8" fill="#d8d8d8"/><rect x="12.5" y="7.4" width="8.5" height="2.3" fill="#dcdcdc"/></g><circle cx="550.9" cy="491.0" r="15.6" fill="#e27b1b"/><text x="542.09" y="497.50" font-family='"Liberation Sans", sans-serif' font-weight="bold" font-size="18.60" fill="#fff" stroke="#fff" stroke-width="0.85" textLength="17.39" lengthAdjust="spacingAndGlyphs">RX</text>
<polygon points="697.9,559.2 753.0,591.4 753.0,608.3 716.9,629.4 661.4,597.0 661.4,580.1" fill="#1a1a1c"/><polygon points="697.9,559.2 753.0,591.4 716.9,612.5 661.4,580.1" fill="#3c3c40"/><polygon points="661.4,580.1 716.9,612.5 716.9,629.4 661.4,597.0" fill="#232325"/><polygon points="716.9,612.5 753.0,591.4 753.0,608.3 716.9,629.4" fill="#171719"/><g transform="matrix(1,0.5838,0,1,661.4,580.1)"><rect x="3.8" y="4.8" width="5.8" height="5" fill="#f0f0f0"/><polygon points="9.6,6.5 12,7.2 11,9.8 9.6,9.8" fill="#d8d8d8"/><rect x="12.5" y="7.4" width="8.5" height="2.3" fill="#dcdcdc"/></g><circle cx="709.4" cy="586.8" r="15.6" fill="#e27b1b"/><text x="700.59" y="593.30" font-family='"Liberation Sans", sans-serif' font-weight="bold" font-size="18.60" fill="#fff" stroke="#fff" stroke-width="0.85" textLength="17.39" lengthAdjust="spacingAndGlyphs">RX</text>
<rect x="537.4" y="194.9" width="82.1" height="15.7" rx="1" fill="#e27b1b"/>
<rect x="664.1" y="309.9" width="81.8" height="15.7" rx="1" fill="#e27b1b"/>
<rect x="806" y="394.5" width="81.4" height="16.1" rx="1" fill="#e27b1b"/>
<rect x="950.9" y="481.6" width="81.4" height="15.8" rx="1" fill="#e27b1b"/>
<rect x="123.3" y="323.6" width="81.3" height="15.8" rx="1" fill="#e27b1b"/>
<rect x="433.3" y="444.3" width="81.7" height="15.7" rx="1" fill="#e27b1b"/>
<rect x="576.3" y="525.9" width="82.1" height="16.1" rx="1" fill="#e27b1b"/>
<rect x="736.9" y="621.6" width="81.0" height="15.4" rx="1" fill="#e27b1b"/>
<circle cx="637.8" cy="88.5" r="3.3" fill="#e07a1c"/>
<text x="644.92" y="95.50" font-family='"Liberation Sans", sans-serif' font-weight="normal" font-style="normal" font-size="18.31" fill="#3a3a3a" stroke="#3a3a3a" stroke-width="0.6" textLength="22.21" lengthAdjust="spacingAndGlyphs">PC</text>
<text x="671.24" y="95.50" font-family='"Liberation Sans", sans-serif' font-weight="normal" font-style="normal" font-size="18.31" fill="#3a3a3a" stroke="#3a3a3a" stroke-width="0.6" textLength="10.10" lengthAdjust="spacingAndGlyphs">1</text>
<circle cx="775.1" cy="164.5" r="3.3" fill="#e07a1c"/>
<text x="782.72" y="171.50" font-family='"Liberation Sans", sans-serif' font-weight="normal" font-style="normal" font-size="18.31" fill="#3a3a3a" stroke="#3a3a3a" stroke-width="0.6" textLength="22.21" lengthAdjust="spacingAndGlyphs">PC</text>
<text x="809.55" y="171.50" font-family='"Liberation Sans", sans-serif' font-weight="normal" font-style="normal" font-size="18.31" fill="#3a3a3a" stroke="#3a3a3a" stroke-width="0.6" textLength="9.41" lengthAdjust="spacingAndGlyphs">2</text>
<circle cx="930.5" cy="246" r="3.3" fill="#e07a1c"/>
<text x="937.42" y="252.80" font-family='"Liberation Sans", sans-serif' font-weight="normal" font-style="normal" font-size="18.31" fill="#3a3a3a" stroke="#3a3a3a" stroke-width="0.6" textLength="22.21" lengthAdjust="spacingAndGlyphs">PC</text>
<text x="964.42" y="252.80" font-family='"Liberation Sans", sans-serif' font-weight="normal" font-style="normal" font-size="18.31" fill="#3a3a3a" stroke="#3a3a3a" stroke-width="0.6" textLength="9.48" lengthAdjust="spacingAndGlyphs">3</text>
<circle cx="1073.5" cy="333.4" r="3.3" fill="#e07a1c"/>
<text x="1081.02" y="340.40" font-family='"Liberation Sans", sans-serif' font-weight="normal" font-style="normal" font-size="18.31" fill="#3a3a3a" stroke="#3a3a3a" stroke-width="0.6" textLength="22.21" lengthAdjust="spacingAndGlyphs">PC</text>
<text x="1108.38" y="340.40" font-family='"Liberation Sans", sans-serif' font-weight="normal" font-style="normal" font-size="18.31" fill="#3a3a3a" stroke="#3a3a3a" stroke-width="0.6" textLength="9.03" lengthAdjust="spacingAndGlyphs">4</text>
<circle cx="618.7" cy="454.2" r="3.3" fill="#e07a1c"/>
<text x="622.56" y="459.60" font-family='"Liberation Sans", sans-serif' font-weight="normal" font-style="normal" font-size="15.26" fill="#3a3a3a" stroke="#3a3a3a" stroke-width="0.5" textLength="53.49" lengthAdjust="spacingAndGlyphs">Gigabit</text>
<text x="680.13" y="459.60" font-family='"Liberation Sans", sans-serif' font-weight="normal" font-style="normal" font-size="15.26" fill="#3a3a3a" stroke="#3a3a3a" stroke-width="0.5" textLength="50.39" lengthAdjust="spacingAndGlyphs">Switch</text>
<text x="623.27" y="477.10" font-family='"Liberation Sans", sans-serif' font-weight="normal" font-style="normal" font-size="14.97" fill="#3a3a3a" stroke="#3a3a3a" stroke-width="0.5" textLength="49.68" lengthAdjust="spacingAndGlyphs">(IGMP)</text>
<circle cx="129.5" cy="484.5" r="3.3" fill="#e07a1c"/>
<text x="136.34" y="488.70" font-family='"Liberation Sans", sans-serif' font-weight="normal" font-style="normal" font-size="12.35" fill="#3a3a3a" stroke="#3a3a3a" stroke-width="0.55" textLength="61.06" lengthAdjust="spacingAndGlyphs">Command</text>
<text x="200.69" y="488.70" font-family='"Liberation Sans", sans-serif' font-weight="normal" font-style="normal" font-size="12.35" fill="#3a3a3a" stroke="#3a3a3a" stroke-width="0.55" textLength="25.39" lengthAdjust="spacingAndGlyphs">Seat</text>
<text x="139.64" y="503.00" font-family='"Liberation Sans", sans-serif' font-weight="normal" font-style="normal" font-size="12.65" fill="#3a3a3a" stroke="#3a3a3a" stroke-width="0.55" textLength="6.39" lengthAdjust="spacingAndGlyphs">1</text>
<circle cx="271.75" cy="566.6" r="3.3" fill="#e07a1c"/>
<text x="278.59" y="570.80" font-family='"Liberation Sans", sans-serif' font-weight="normal" font-style="normal" font-size="12.35" fill="#3a3a3a" stroke="#3a3a3a" stroke-width="0.55" textLength="61.06" lengthAdjust="spacingAndGlyphs">Command</text>
<text x="342.94" y="570.80" font-family='"Liberation Sans", sans-serif' font-weight="normal" font-style="normal" font-size="12.35" fill="#3a3a3a" stroke="#3a3a3a" stroke-width="0.55" textLength="25.39" lengthAdjust="spacingAndGlyphs">Seat</text>
<text x="278.90" y="585.10" font-family='"Liberation Sans", sans-serif' font-weight="normal" font-style="normal" font-size="12.65" fill="#3a3a3a" stroke="#3a3a3a" stroke-width="0.55" textLength="6.72" lengthAdjust="spacingAndGlyphs">2</text>
<circle cx="416.75" cy="649.5" r="3.3" fill="#e07a1c"/>
<text x="423.59" y="653.70" font-family='"Liberation Sans", sans-serif' font-weight="normal" font-style="normal" font-size="12.35" fill="#3a3a3a" stroke="#3a3a3a" stroke-width="0.55" textLength="61.06" lengthAdjust="spacingAndGlyphs">Command</text>
<text x="487.94" y="653.70" font-family='"Liberation Sans", sans-serif' font-weight="normal" font-style="normal" font-size="12.35" fill="#3a3a3a" stroke="#3a3a3a" stroke-width="0.55" textLength="25.39" lengthAdjust="spacingAndGlyphs">Seat</text>
<text x="426.49" y="668.00" font-family='"Liberation Sans", sans-serif' font-weight="normal" font-style="normal" font-size="12.65" fill="#3a3a3a" stroke="#3a3a3a" stroke-width="0.55" textLength="7.03" lengthAdjust="spacingAndGlyphs">3</text>
<circle cx="582.5" cy="742.1" r="3.3" fill="#e07a1c"/>
<text x="589.34" y="746.30" font-family='"Liberation Sans", sans-serif' font-weight="normal" font-style="normal" font-size="12.35" fill="#3a3a3a" stroke="#3a3a3a" stroke-width="0.55" textLength="61.06" lengthAdjust="spacingAndGlyphs">Command</text>
<text x="653.69" y="746.30" font-family='"Liberation Sans", sans-serif' font-weight="normal" font-style="normal" font-size="12.35" fill="#3a3a3a" stroke="#3a3a3a" stroke-width="0.55" textLength="25.39" lengthAdjust="spacingAndGlyphs">Seat</text>
<text x="592.25" y="760.60" font-family='"Liberation Sans", sans-serif' font-weight="normal" font-style="normal" font-size="12.65" fill="#3a3a3a" stroke="#3a3a3a" stroke-width="0.55" textLength="6.88" lengthAdjust="spacingAndGlyphs">4</text>
<text x="568.19" y="206.90" font-family='"Liberation Sans", sans-serif' font-weight="bold" font-style="normal" font-size="11.48" fill="#ffffff" stroke="#ffffff" stroke-width="0.15" textLength="22.42" lengthAdjust="spacingAndGlyphs">KFH</text>
<text x="670.61" y="321.90" font-family='"Liberation Sans", sans-serif' font-weight="bold" font-style="normal" font-size="11.48" fill="#ffffff" stroke="#ffffff" stroke-width="0.15" textLength="64.12" lengthAdjust="spacingAndGlyphs">KFH151E-TX</text>
<text x="811.70" y="406.50" font-family='"Liberation Sans", sans-serif' font-weight="bold" font-style="normal" font-size="11.48" fill="#ffffff" stroke="#ffffff" stroke-width="0.15" textLength="63.81" lengthAdjust="spacingAndGlyphs">KFH151L-TX</text>
<text x="957.30" y="493.30" font-family='"Liberation Sans", sans-serif' font-weight="bold" font-style="normal" font-size="11.48" fill="#ffffff" stroke="#ffffff" stroke-width="0.15" textLength="64.22" lengthAdjust="spacingAndGlyphs">KFH251S-TX</text>
<text x="152.19" y="335.40" font-family='"Liberation Sans", sans-serif' font-weight="bold" font-style="normal" font-size="11.48" fill="#ffffff" stroke="#ffffff" stroke-width="0.15" textLength="22.42" lengthAdjust="spacingAndGlyphs">KFH</text>
<text x="439.30" y="456.60" font-family='"Liberation Sans", sans-serif' font-weight="bold" font-style="normal" font-size="11.48" fill="#ffffff" stroke="#ffffff" stroke-width="0.15" textLength="66.14" lengthAdjust="spacingAndGlyphs">KFH151E-RX</text>
<text x="583.10" y="537.90" font-family='"Liberation Sans", sans-serif' font-weight="bold" font-style="normal" font-size="11.48" fill="#ffffff" stroke="#ffffff" stroke-width="0.15" textLength="64.92" lengthAdjust="spacingAndGlyphs">KFH151L-RX</text>
<text x="743.30" y="632.90" font-family='"Liberation Sans", sans-serif' font-weight="bold" font-style="normal" font-size="11.48" fill="#ffffff" stroke="#ffffff" stroke-width="0.15" textLength="66.14" lengthAdjust="spacingAndGlyphs">KFH251S-RX</text>
<path d="M636.8,334.5 L626,338.6 L628.6,342.6 L623,349 L633.8,342.2 L631.2,338 Z" fill="#e8891f"/>
<text x="638.60" y="345.70" font-family='"Liberation Sans", sans-serif' font-weight="normal" font-style="normal" font-size="14.97" fill="#3a3a3a" stroke="#3a3a3a" stroke-width="0.55" textLength="28.97" lengthAdjust="spacingAndGlyphs">POE</text>
<circle cx="678.7" cy="340.3" r="8.6" fill="none" stroke="#1e1e1e" stroke-width="1.6"/>
<path d="M674.5,338 L678.5,335.5 L683,338.5 L681.5,343.5 L677,345 L674,342 Z" fill="#1e1e1e"/>
<circle cx="679" cy="341" r="2.6" fill="#c8203e"/>
<g stroke="#e0607e" stroke-width="1" opacity="0.85"><line x1="670" y1="331.7" x2="687.5" y2="349.2"/><line x1="687.5" y1="331.7" x2="670" y2="349.2"/></g>
<text x="840.06" y="90.00" font-family='"Liberation Sans", sans-serif' font-weight="bold" font-style="normal" font-size="23.55" fill="#424242" textLength="48.75" lengthAdjust="spacingAndGlyphs">Slim</text>
<text x="896.48" y="90.00" font-family='"Liberation Sans", sans-serif' font-weight="bold" font-style="normal" font-size="23.55" fill="#424242" textLength="68.95" lengthAdjust="spacingAndGlyphs">Matrix</text>
<text x="972.48" y="90.00" font-family='"Liberation Sans", sans-serif' font-weight="bold" font-style="normal" font-size="23.55" fill="#424242" textLength="61.06" lengthAdjust="spacingAndGlyphs">Mode</text>
<text x="1040.49" y="90.00" font-family='"Liberation Sans", sans-serif' font-weight="bold" font-style="normal" font-size="23.55" fill="#424242" textLength="69.75" lengthAdjust="spacingAndGlyphs">TX+RX</text>
<path d="M1129.8,73.6 L1114.3,79.3 L1129.8,85 M1114.3,83.8 L1129.8,89.6" fill="none" stroke="#404040" stroke-width="2"/>
<text x="1133.63" y="90.00" font-family='"Liberation Sans", sans-serif' font-weight="bold" font-style="normal" font-size="23.55" fill="#424242" textLength="27.10" lengthAdjust="spacingAndGlyphs">40</text>
<line x1="47.4" y1="711.1" x2="100.2" y2="711.1" stroke="#7ea6d8" stroke-width="1.6"/>
<line x1="47.4" y1="730" x2="100.2" y2="730" stroke="#f0a326" stroke-width="1.6"/>
<line x1="47.4" y1="748.7" x2="100.2" y2="748.7" stroke="#c2304e" stroke-width="1.6"/>
<text x="107.60" y="715.50" font-family='"Liberation Sans", sans-serif' font-weight="normal" font-style="normal" font-size="12.94" fill="#3a3a3a" stroke="#3a3a3a" stroke-width="0.3" textLength="63.57" lengthAdjust="spacingAndGlyphs">Fiber/Catx</text>
<text x="175.32" y="715.50" font-family='"Liberation Sans", sans-serif' font-weight="normal" font-style="normal" font-size="12.94" fill="#3a3a3a" stroke="#3a3a3a" stroke-width="0.3" textLength="35.32" lengthAdjust="spacingAndGlyphs">Cable</text>
<text x="107.64" y="733.50" font-family='"Liberation Sans", sans-serif' font-weight="normal" font-style="normal" font-size="12.94" fill="#3a3a3a" stroke="#3a3a3a" stroke-width="0.3" textLength="33.93" lengthAdjust="spacingAndGlyphs">HDMI</text>
<text x="144.63" y="733.50" font-family='"Liberation Sans", sans-serif' font-weight="normal" font-style="normal" font-size="12.94" fill="#3a3a3a" stroke="#3a3a3a" stroke-width="0.3" textLength="35.22" lengthAdjust="spacingAndGlyphs">Cable</text>
<text x="108.64" y="752.00" font-family='"Liberation Sans", sans-serif' font-weight="normal" font-style="normal" font-size="12.94" fill="#3a3a3a" stroke="#3a3a3a" stroke-width="0.3" textLength="23.38" lengthAdjust="spacingAndGlyphs">VGA</text>
<text x="135.93" y="752.00" font-family='"Liberation Sans", sans-serif' font-weight="normal" font-style="normal" font-size="12.94" fill="#3a3a3a" stroke="#3a3a3a" stroke-width="0.3" textLength="35.22" lengthAdjust="spacingAndGlyphs">Cable</text>
</svg></body></html>
